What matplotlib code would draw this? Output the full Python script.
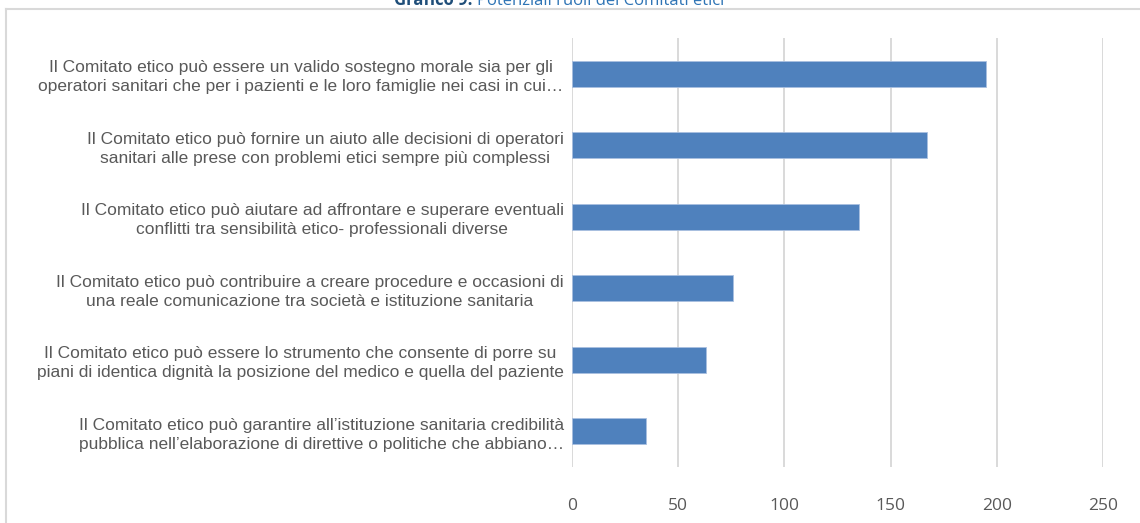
import matplotlib.pyplot as plt
from matplotlib.lines import Line2D

W, H = 1140, 523

labels = [
    "Il Comitato etico può essere un valido sostegno morale sia per gli\noperatori sanitari che per i pazienti e le loro famiglie nei casi in cui…",
    "Il Comitato etico può fornire un aiuto alle decisioni di operatori\nsanitari alle prese con problemi etici sempre più complessi",
    "Il Comitato etico può aiutare ad affrontare e superare eventuali\nconflitti tra sensibilità etico- professionali diverse",
    "Il Comitato etico può contribuire a creare procedure e occasioni di\nuna reale comunicazione tra società e istituzione sanitaria",
    "Il Comitato etico può essere lo strumento che consente di porre su\npiani di identica dignità la posizione del medico e quella del paziente",
    "Il Comitato etico può garantire all’istituzione sanitaria credibilità\npubblica nell’elaborazione di direttive o politiche che abbiano…",
]
values = [195, 167, 135, 76, 63, 35]
xticks = [0, 50, 100, 150, 200, 250]

fig = plt.figure(figsize=(W / 100, H / 100), dpi=100)

# plot area in pixels
left, right, top, bottom = 572, 1103, 38, 467
ax = fig.add_axes([left / W, 1 - bottom / H, (right - left) / W, (bottom - top) / H])

pos = list(range(len(labels)))
ax.barh(pos, values, height=0.36, color="#4f81bd", edgecolor="#a9c0e0", linewidth=0.6, zorder=3)
ax.set_ylim(len(labels) - 0.5, -0.5)
ax.set_xlim(0, 250)
ax.set_xticks(xticks)
ax.set_xticklabels([str(t) for t in xticks], family="Open Sans", fontsize=12.5, color="#595959")
ax.set_yticks(pos)
ax.set_yticklabels(labels, family="Liberation Sans", fontsize=12.5,
                   color="#595959", multialignment="center", linespacing=1.35)
ax.tick_params(axis="both", length=0)
ax.tick_params(axis="x", pad=22)
ax.tick_params(axis="y", pad=6)
ax.grid(axis="x", color="#d9d9d9", linewidth=1.4, zorder=0)
for s in ax.spines.values():
    s.set_visible(False)

# outer chart border (partly cut off)
fig.add_artist(Line2D([6 / W, 6 / W], [0, 1 - 8.5 / H], color="#d9d9d9", linewidth=1.5))
fig.add_artist(Line2D([6 / W, 1], [1 - 8.5 / H, 1 - 8.5 / H], color="#d9d9d9", linewidth=1.5))

# title, cut at top edge as in the source
t1 = fig.text(394 / W, 1 - 5 / H, "Grafico 9: ", family="Open Sans", fontsize=12,
              fontweight="bold", color="#1f4e79", va="baseline")
fig.canvas.draw()
bb = t1.get_window_extent()
fig.text(bb.x1 / W, 1 - 5 / H, "Potenziali ruoli dei Comitati etici", family="Open Sans",
         fontsize=12, color="#2e74b5", va="baseline")

fig.savefig("out.png", dpi=100)
